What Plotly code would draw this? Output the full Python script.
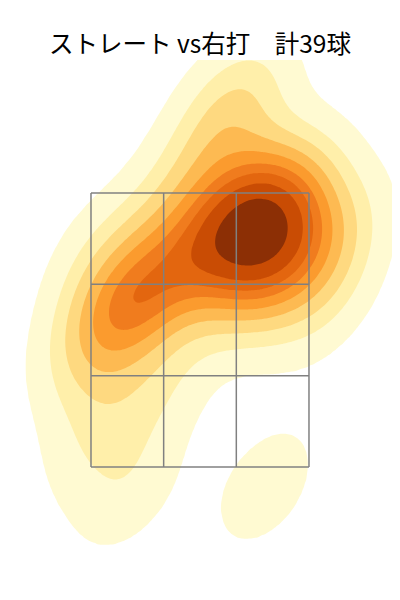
import numpy as np
import plotly.graph_objects as go

# Pitch locations (plate_x, plate_z in feet)
plate_x = [0.114, 0.305, 0.495, 0.685, 0.228, 0.419, 0.609, 0.762, 0.343, 0.533,
           0.685, 0.457, 0.228, 0.800, 0.495, 0.152, 0.381, 0.609,
           -0.533, -0.381, -0.594, -0.419, -0.305, -0.625,
           -0.076, 0.076,
           0.305, -0.267, 0.038, 0.267,
           -0.876, -0.762, -0.548, -0.762, 0.495, 1.066, 0.952, -0.267, -0.762]
plate_z = [3.464, 3.485, 3.522, 3.449, 3.339, 3.339, 3.318, 3.230, 3.172, 3.157,
           3.047, 3.011, 3.084, 2.996, 3.266, 3.215, 2.901, 2.828,
           2.792, 2.682, 2.588, 2.850, 2.755, 2.719,
           3.099, 3.026,
           4.069, 2.099, 3.887, 4.237,
           2.464, 2.135, 1.332, 1.697, 1.354, 3.157, 2.719, 3.412, 3.047]

zone_x = [-0.83, 0.83]
zone_z = [1.5, 3.5]

band_colors = ["#FFFAD2", "#FFEFAA", "#FED980", "#FDBA52", "#FB9B2E",
               "#F07C1E", "#E3660F", "#C94C04", "#8C2F05"]

title_text = "ストレート vs右打　計39球"

# --- Gaussian KDE (Scott's rule), like seaborn kdeplot ---
data = np.vstack([plate_x, plate_z])
n = data.shape[1]
factor = n ** (-1.0 / 6.0)
cov = np.cov(data) * factor ** 2
inv = np.linalg.inv(cov)
norm = 1.0 / (2 * np.pi * np.sqrt(np.linalg.det(cov)) * n)
bw = np.sqrt(np.diag(cov))
gx = np.linspace(min(plate_x) - 3 * bw[0], max(plate_x) + 3 * bw[0], 200)
gy = np.linspace(min(plate_z) - 3 * bw[1], max(plate_z) + 3 * bw[1], 200)
XX, YY = np.meshgrid(gx, gy)
dens = np.zeros_like(XX)
for px, pz in zip(plate_x, plate_z):
    dx = XX - px
    dy = YY - pz
    q = inv[0, 0] * dx * dx + 2 * inv[0, 1] * dx * dy + inv[1, 1] * dy * dy
    dens += np.exp(-0.5 * q)
dens *= norm

# iso-proportion levels (thresh=0.05, 10 levels)
iso = np.linspace(0.05, 1, 10)
vals = np.sort(dens.ravel())[::-1]
cum = np.cumsum(vals) / vals.sum()
idx = np.searchsorted(cum, 1 - iso)
levels = np.take(vals, idx, mode="clip")
levels = np.sort(levels)
levels[-1] = dens.max()
zmap = np.interp(dens, np.concatenate([[0.0], levels]), np.arange(-1, len(levels)))

cs = [[0.0, "rgba(255,255,255,0)"]]
for i, c in enumerate(band_colors):
    cs.append([(i + 1) / 10.0, c])
cs.append([1.0, band_colors[-1]])

fig = go.Figure()
fig.add_trace(go.Contour(
    x=gx, y=gy, z=zmap,
    autocontour=False,
    contours=dict(start=0, end=9, size=1, coloring="fill"),
    colorscale=cs, showscale=False,
    line=dict(width=0), hoverinfo="skip",
))

xs = np.linspace(zone_x[0], zone_x[1], 4)
zs = np.linspace(zone_z[0], zone_z[1], 4)
for xv in xs:
    fig.add_shape(type="line", x0=xv, x1=xv, y0=zone_z[0], y1=zone_z[1],
                  line=dict(color="#808080", width=1.5))
for zv in zs:
    fig.add_shape(type="line", x0=zone_x[0], x1=zone_x[1], y0=zv, y1=zv,
                  line=dict(color="#808080", width=1.5))

fig.update_layout(
    width=400, height=600,
    margin=dict(l=0, r=0, t=52, b=0),
    paper_bgcolor="white", plot_bgcolor="white",
    title=dict(text=title_text, x=0.48, xanchor="center", xref="container",
               y=1 - 36 / 600, yref="container", yanchor="middle",
               font=dict(family="Noto Sans CJK JP", size=24.5, color="black")),
    xaxis=dict(range=[-1.462, 1.584], visible=False, showgrid=False, zeroline=False),
    yaxis=dict(range=[0.471, 4.471], visible=False, showgrid=False, zeroline=False),
    showlegend=False,
)

fig.write_html("out.html")
